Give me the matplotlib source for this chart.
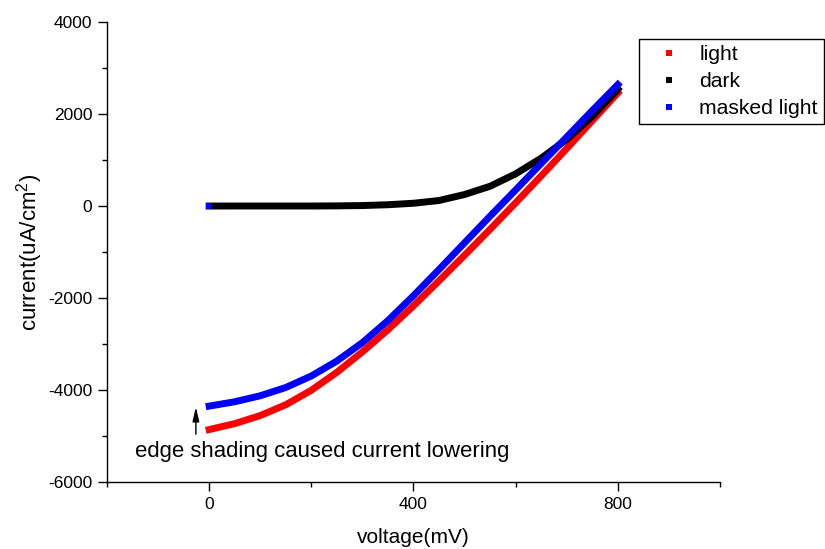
import matplotlib
matplotlib.use('Agg')
import matplotlib.pyplot as plt
from matplotlib.lines import Line2D

plt.rcParams['font.family'] = ['Liberation Sans', 'DejaVu Sans']
plt.rcParams['mathtext.fontset'] = 'custom'
plt.rcParams['mathtext.rm'] = 'Liberation Sans'
plt.rcParams['mathtext.it'] = 'Liberation Sans'
plt.rcParams['axes.unicode_minus'] = False

# J-V sweep, voltage in mV, current density in uA/cm2
voltage = [0, 50, 100, 150, 200, 250, 300, 350, 400,
           450, 500, 550, 600, 650, 700, 750, 800]
light = [-4860, -4730, -4555, -4320, -4005, -3615, -3170, -2690, -2170,
         -1625, -1070, -505, 70, 655, 1250, 1855, 2460]
dark = [0, 0, 0, 0, 0, 3, 10, 28, 60,
        120, 250, 430, 700, 1040, 1450, 1950, 2540]
masked = [-4350, -4255, -4125, -3945, -3695, -3370, -2970, -2490, -1950,
          -1380, -800, -220, 350, 925, 1500, 2075, 2640]
masked_start = (0, 0)

labels = ['light', 'dark', 'masked light']
colors = ['#ff0000', '#000000', '#0000ff']

fig = plt.figure(figsize=(8.25, 5.49), dpi=100)
ax = fig.add_axes([0.1297, 0.1220, 0.7430, 0.8379])

lw = 5
ax.plot(voltage, light, color=colors[0], lw=lw, solid_capstyle='projecting',
        solid_joinstyle='round')
ax.plot(voltage, dark, color=colors[1], lw=lw, solid_capstyle='projecting',
        solid_joinstyle='round')
ax.plot(voltage, masked, color=colors[2], lw=lw, solid_capstyle='projecting',
        solid_joinstyle='round')
ax.plot(*masked_start, 's', color=colors[2], ms=4.5, mew=0)

ax.set_xlim(-200, 1000)
ax.set_ylim(-6000, 4000)
ax.set_xticks([0, 400, 800])
ax.set_xticks([-200, 200, 600, 1000], minor=True)
ax.set_yticks(range(-6000, 4001, 2000))
ax.set_yticks(range(-5000, 4000, 2000), minor=True)

for s in ['top', 'right']:
    ax.spines[s].set_visible(False)
for s in ['left', 'bottom']:
    ax.spines[s].set_linewidth(1.0)

ax.tick_params(which='major', direction='out', length=6.5, width=1.0,
               labelsize=12.5, pad=4)
ax.tick_params(which='minor', direction='out', length=3.5, width=1.0)

ax.set_xlabel('voltage(mV)', fontsize=15, labelpad=12)
ax.set_ylabel('current(uA/cm$^2$)', fontsize=16, labelpad=2)

# arrow + note on the low-voltage end
ax.annotate('', xy=(-26, -4370), xytext=(-26, -4960),
            arrowprops=dict(arrowstyle='-|>,head_length=0.85,head_width=0.2',
                            color='k', lw=1, mutation_scale=10,
                            shrinkA=0, shrinkB=0))
ax.text(-145, -5330, 'edge shading caused current lowering',
        fontsize=15.9, va='center', ha='left')

handles = [Line2D([], [], ls='none', marker='s', ms=4.5, mew=0, color=c)
           for c in colors]
leg = ax.legend(handles, labels, loc='upper left',
                bbox_to_anchor=(0.868, 0.963), borderaxespad=0,
                fontsize=15.2, frameon=True, fancybox=False, framealpha=1,
                edgecolor='black', borderpad=0.3, handlelength=2.2,
                handletextpad=0.35, labelspacing=0.37)
leg.get_frame().set_linewidth(1.0)

fig.savefig('out.png', dpi=100)
